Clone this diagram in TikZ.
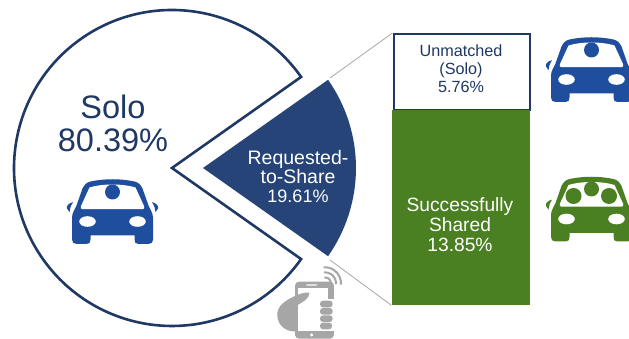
\documentclass[tikz,border=0pt]{standalone}
\usepackage{fontspec}
\setmainfont{Liberation Sans}
\definecolor{navyline}{HTML}{1F3864}
\definecolor{navyfill}{HTML}{264478}
\definecolor{carblue}{HTML}{1F4E9E}
\definecolor{bargreen}{HTML}{4A7F22}
\definecolor{phonegray}{HTML}{A6A6A6}
\newcommand{\carshape}[1]{%
  \fill[#1] (-40.5,6) -- (-40.5,28) .. controls (-40.5,31) and (-39,32.5) .. (-36,32.5) -- (-26,32.5)
      .. controls (-23,32.5) and (-22,31) .. (-22,28) -- (-22,24) -- (22,24) -- (22,28)
      .. controls (22,31) and (23,32.5) .. (26,32.5) -- (36,32.5)
      .. controls (39,32.5) and (40.5,31) .. (40.5,28) -- (40.5,6)
      .. controls (40.5,1) and (37,-3) .. (36,-6) -- (30,-23)
      .. controls (28,-27) and (26,-29) .. (22,-30)
      .. controls (8,-33) and (-8,-33) .. (-22,-30)
      .. controls (-26,-29) and (-28,-27) .. (-30,-23) -- (-36,-6)
      .. controls (-37,-3) and (-40.5,1) .. (-40.5,6) -- cycle;
  \fill[white] (-23,-24) .. controls (-10,-28) and (10,-28) .. (23,-24) -- (31.5,-5.5)
      .. controls (32.5,-3.5) and (31.5,-2.3) .. (30,-2.3) -- (-30,-2.3)
      .. controls (-31.5,-2.3) and (-32.5,-3.5) .. (-31.5,-5.5) -- cycle;
  \fill[white] (-25,10) ellipse [x radius=8.3, y radius=5.3];
  \fill[white] (25,10) ellipse [x radius=8.3, y radius=5.3];
  \fill[#1] (-39.5,-9.3) .. controls (-44,-8.5) and (-46.5,-5) .. (-45.5,-3) -- (-43,0.7)
      .. controls (-43,-3) and (-41.5,-6) .. (-39.5,-9.3) -- cycle;
  \fill[#1] (39.5,-9.3) .. controls (44,-8.5) and (46.5,-5) .. (45.5,-3) -- (43,0.7)
      .. controls (43,-3) and (41.5,-6) .. (39.5,-9.3) -- cycle;
}
\newcommand{\solocarat}[1]{\begin{scope}[shift={#1},yscale=-1]
  \carshape{carblue}
  \fill[carblue] (0,-19.5) circle [radius=7.5];
\end{scope}}
\newcommand{\sharecarat}[1]{\begin{scope}[shift={#1},yscale=-1]
  \carshape{bargreen}
  \fill[bargreen] (-18,-13) circle [radius=8];
  \fill[bargreen] (0,-20) circle [radius=7.5];
  \fill[bargreen] (17.5,-13) circle [radius=8];
\end{scope}}
\tikzset{
  x=1pt,y=1pt,
  barlabel/.style={align=center,inner sep=0pt,text=#1},
  grayline/.style={draw=phonegray,line width=0.8pt},
  finger/.style={fill=phonegray,rounded corners=3pt}
}
\begin{document}
\begin{tikzpicture}
\useasboundingbox (0,0) rectangle (629,339);
% pie outline
\draw[navyline,line width=2.6pt,fill=white,line join=miter]
  (172,171) -- ++(35.2:158) arc[start angle=35.2,end angle=324.8,radius=158] -- cycle;
% sector
\fill[navyfill] (203,171) -- ++(-35.2:153) arc[start angle=-35.2,end angle=35.2,radius=153] -- cycle;
% bars
\node[draw=navyline,line width=2pt,fill=white,minimum width=136pt,minimum height=76pt,inner sep=0pt,anchor=north west] (unmatched) at (392.5,306) {};
\node[fill=bargreen,minimum width=138pt,minimum height=195pt,inner sep=0pt,anchor=north west] (shared) at (391.5,229) {};
% connectors
\coordinate (topend) at (330,261);
\coordinate (botend) at (330,79);
\draw[grayline] (topend) -- (unmatched.north west);
\draw[grayline] (botend) -- (shared.south west);
% labels
\node[barlabel=navyline,font=\fontsize{32.5}{33}\selectfont] (solo) at (113,216) {Solo\\80.39\%};
\node[barlabel=white,font=\fontsize{19.5}{19}\selectfont] (req) at (298,162) {Requested-\\to-Share\\\fontsize{18}{19}\selectfont 19.61\%};
\node[barlabel=navyline,font=\fontsize{16.2}{18}\selectfont] (unm) at (461,270) {Unmatched\\(Solo)\\5.76\%};
\node[barlabel=white,font=\fontsize{19.2}{20}\selectfont] (succ) at (460,114) {Successfully\\Shared\\13.85\%};
% cars
\solocarat{(112.5,127.5)}
\solocarat{(591.5,269.5)}
\sharecarat{(591.5,130)}
% phone
\begin{scope}[shift={(260,89)},x=0.3333pt,y=-0.3333pt]
  \fill[phonegray,rounded corners=4pt] (105,95) rectangle (222,266);
  \fill[white] (113,113) rectangle (205,243);
  \fill[white,rounded corners=1pt] (138,103) rectangle (172,107);
  \fill[white] (155,255) circle [radius=5];
  \fill[phonegray] (148,128) .. controls (130,125) and (95,140) .. (75,155)
    .. controls (55,168) and (50,185) .. (52,200)
    .. controls (55,228) and (80,248) .. (113,244) -- (113,165)
    .. controls (125,158) and (150,145) .. (148,128) -- cycle;
  \fill[white] (178,146) rectangle (222,242);
  \fill[finger] (180,152) rectangle (218,172);
  \fill[finger] (180,174) rectangle (218,194);
  \fill[finger] (180,196) rectangle (218,216);
  \fill[finger] (180,218) rectangle (216,238);
\end{scope}
\foreach \r in {6,11,16}
  \draw[phonegray,line width=2pt] (325,55.7) ++(-5:\r) arc[start angle=-5,end angle=95,radius=\r];
\end{tikzpicture}
\end{document}
